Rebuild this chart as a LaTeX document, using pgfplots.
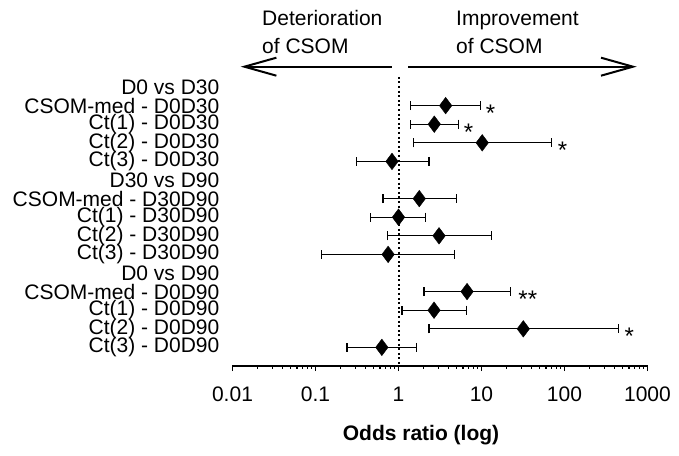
\documentclass[border=0pt]{standalone}
\usepackage{pgfplots}
\pgfplotsset{compat=1.18}
\usepackage{pgfplotstable}
\usepackage{fontspec}
\setmainfont{Liberation Sans}
\usetikzlibrary{arrows.meta}

% row  OR  plus  minus
\pgfplotstableread{
row x ep em
2 3.7 6.1 2.29
3 2.7 2.6 1.32
4 10.2 59.8 8.69
5 0.835 1.495 0.525
7 1.78 3.22 1.13
8 1.0 1.13 0.543
9 3.08 10.22 2.35
10 0.75 3.95 0.631
12 6.7 15.5 4.67
13 2.68 3.92 1.58
14 31.9 413.1 29.57
15 0.63 1.03 0.39
}\ortable

\newcommand{\lab}{\fontsize{21}{23}\selectfont}
\newcommand{\starfont}{\fontsize{24}{26}\selectfont}

\begin{document}
\begin{tikzpicture}
\path[use as bounding box] (0,0) rectangle (679pt,455pt);
\begin{axis}[
  at={(232.5pt,89pt)}, anchor=south west,
  scale only axis,
  width=415pt, height=297.6pt,
  xmode=log, xmin=0.01, xmax=1000,
  ymin=0, ymax=16, y dir=reverse,
  clip=false,
  axis x line*=bottom,
  axis y line*=left,
  y axis line style={draw=none},
  x axis line style={line width=1.4pt,-},
  xtick={0.01,0.1,1,10,100,1000},
  xticklabels={0.01,0.1,1,10,100,1000},
  minor xtick={},
  x tick style={line width=1.2pt, black},
  tick align=outside,
  major tick length=5pt,
  xticklabel style={font=\lab, anchor=north, inner sep=0pt, yshift=-16pt},
  ytick={1,...,15},
  yticklabels={D0 vs D30, CSOM-med - D0D30, Ct(1) - D0D30, Ct(2) - D0D30, Ct(3) - D0D30,
               D30 vs D90, CSOM-med - D30D90, Ct(1) - D30D90, Ct(2) - D30D90, Ct(3) - D30D90,
               D0 vs D90, CSOM-med - D0D90, Ct(1) - D0D90, Ct(2) - D0D90, Ct(3) - D0D90},
  y tick style={draw=none},
  yticklabel style={font=\lab, anchor=east, inner sep=0pt, xshift=-8pt},
  xlabel={\bfseries Odds ratio (log)},
  xlabel style={font=\lab, at={(axis description cs:0.5,0)}, anchor=base, yshift=-74.5pt, xshift=-19pt},
]
\addplot[black, line width=2pt, dash pattern=on 2pt off 2.6pt] coordinates {(1,0.45) (1,16)};
\addplot[only marks, mark=diamond*, mark size=8.3pt, black, fill=black,
  error bars/.cd, x dir=both, x explicit,
  error bar style={line width=1.2pt, black},
  error mark options={rotate=90, mark size=4.5pt, line width=1.2pt, black}]
  table[x=x, y=row, x error plus=ep, x error minus=em] {\ortable};
\node[font=\starfont, anchor=base west, inner sep=0pt] at (axis cs:9.8,2) [xshift=5pt, yshift=-16pt] {*};
\node[font=\starfont, anchor=base west, inner sep=0pt] at (axis cs:5.3,3) [xshift=5pt, yshift=-16pt] {*};
\node[font=\starfont, anchor=base west, inner sep=0pt] at (axis cs:70,4) [xshift=6pt, yshift=-16pt] {*};
\node[font=\starfont, anchor=base west, inner sep=0pt] at (axis cs:22.2,12) [xshift=8pt, yshift=-16pt] {**};
\node[font=\starfont, anchor=base west, inner sep=0pt] at (axis cs:445,14) [xshift=6pt, yshift=-16pt] {*};
\end{axis}
\draw[line width=2pt, -{Straight Barb[length=32pt,width=18pt]}] (391.7pt,388.3pt) -- (240.7pt,388.3pt);
\draw[line width=2pt, -{Straight Barb[length=32pt,width=18pt]}] (408pt,388.3pt) -- (636.7pt,388.3pt);
\node[font=\lab, anchor=base west, inner sep=0pt] at (262pt,429pt) {Deterioration};
\node[font=\lab, anchor=base west, inner sep=0pt] at (262pt,401pt) {of CSOM};
\node[font=\lab, anchor=base west, inner sep=0pt] at (456pt,429pt) {Improvement};
\node[font=\lab, anchor=base west, inner sep=0pt] at (456pt,401pt) {of CSOM};
\end{tikzpicture}
\end{document}
